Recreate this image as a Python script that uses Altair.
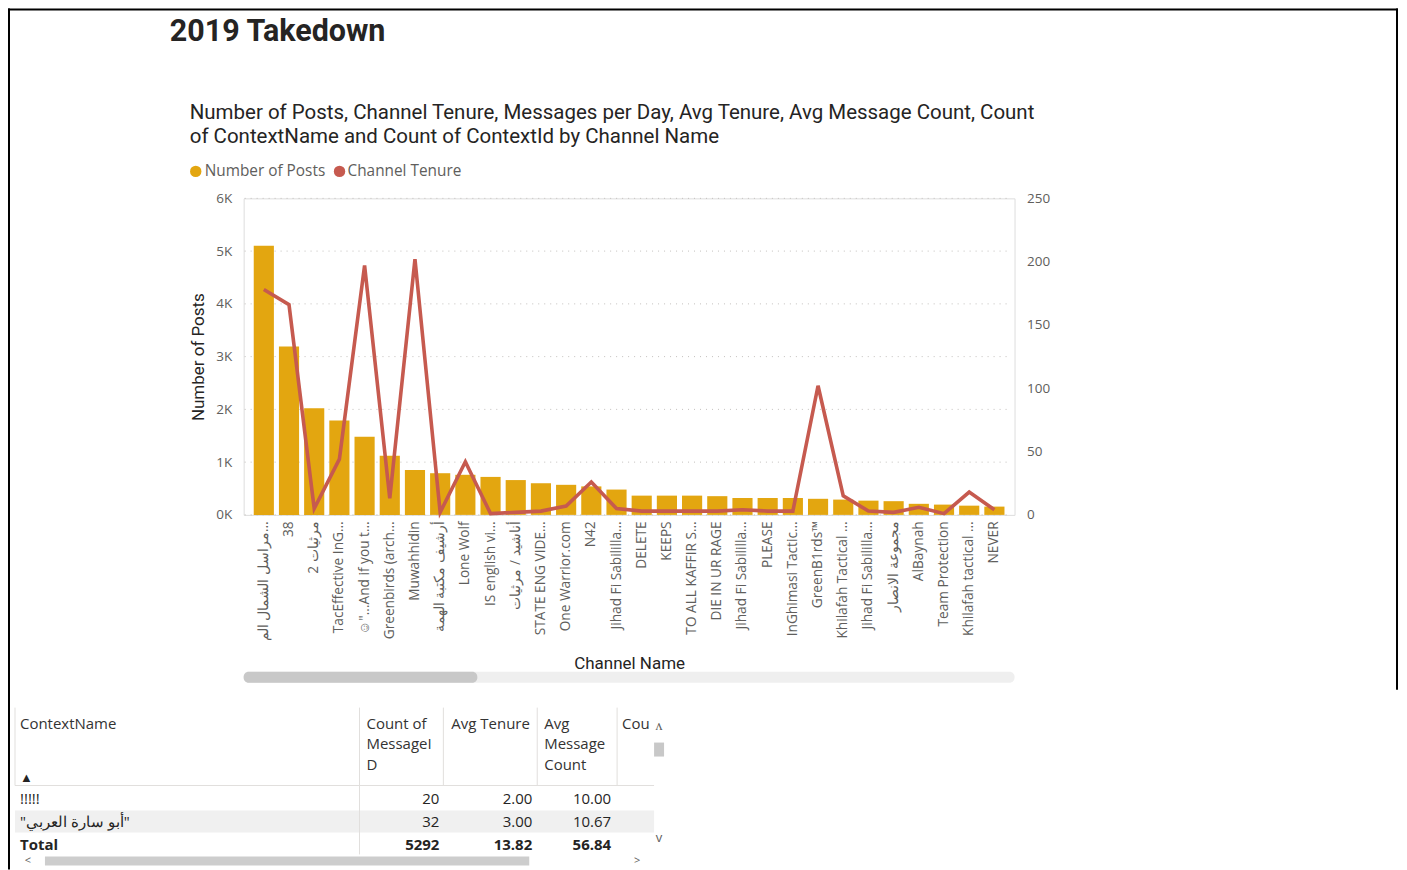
import altair as alt
import pandas as pd

# ---------------- data ----------------
channels = [
    "مراسل الشمال الم…", "38", "2 مرثيات", "TacEffective InG…", "☺\"...And if you t…",
    "Greenbirds (arch…", "Muwahhidin", "أرشيف مكتبة الهمة", "Lone Wolf", "IS english vi…",
    "أناشيد / مرثيات", "STATE ENG VIDE…", "One Warrior.com", "N42", "Jihad Fi Sabililla…",
    "DELETE", "KEEPS", "TO ALL KAFFIR S…", "DIE IN UR RAGE", "Jihad Fi Sabililla…",
    "PLEASE", "InGhimasi Tactic…", "GreenB1rds™", "Khilafah Tactical …", "Jihad Fi Sabililla…",
    "مجموعة الانصار", "AlBaynah", "Team Protection", "Khilafah tactical …", "NEVER",
]
posts = [5100, 3190, 2020, 1790, 1480, 1120, 850, 790, 760, 720,
         660, 600, 570, 540, 480, 365, 365, 365, 355, 320,
         320, 320, 305, 290, 270, 260, 210, 195, 175, 157]
tenure = [178, 166, 5, 44, 197, 13, 202, 2, 42, 1,
          2, 3, 7, 26, 5, 3, 3, 3, 3, 4,
          3, 3, 102, 15, 3, 2, 6, 1, 18, 4]

left_ticks = [0, 1000, 2000, 3000, 4000, 5000, 6000]
right_ticks = [0, 50, 100, 150, 200, 250]

table_names = ["!!!!!", "\"أبو سارة العربي\""]
table_count = [20, 32]
table_avg_tenure = [2.00, 3.00]
table_avg_msg = [10.00, 10.67]
total_count = 5292
total_avg_tenure = 13.82
total_avg_msg = 56.84

# ---------------- style ----------------
GOLD = "#E3A610"
RED = "#C65A4F"
DARK = "#252423"
GREY = "#605E5C"
UI = "Open Sans"
DIN = "Roboto"

W, H = 772, 317
OX, OY = 244, 198


def px(x):
    return x - OX


def py(y):
    return y - OY


ONE = pd.DataFrame({"a": [0]})


def txt(s, x, y, size=15, color=DARK, font=UI, weight="normal", align="left", baseline="middle"):
    return alt.Chart(ONE).mark_text(
        text=s, fontSize=size, color=color, font=font, fontWeight=weight,
        align=align, baseline=baseline,
    ).encode(x=alt.value(px(x)), y=alt.value(py(y)))


def hrule(x1, x2, y, color="#E1DFDD", width=1):
    return alt.Chart(ONE).mark_rule(color=color, strokeWidth=width).encode(
        x=alt.value(px(x1)), x2=alt.value(px(x2)), y=alt.value(py(y)))


def vrule(x, y1, y2, color="#E1DFDD", width=1):
    return alt.Chart(ONE).mark_rule(color=color, strokeWidth=width).encode(
        x=alt.value(px(x)), y=alt.value(py(y1)), y2=alt.value(py(y2)))


def rect(x1, x2, y1, y2, color, radius=0):
    return alt.Chart(ONE).mark_rect(color=color, cornerRadius=radius).encode(
        x=alt.value(px(x1)), x2=alt.value(px(x2)), y=alt.value(py(y1)), y2=alt.value(py(y2)))


# unique keys for repeated names (zero-width spaces are invisible)
seen = {}
keys = []
for n in channels:
    k = seen.get(n, 0)
    seen[n] = k + 1
    keys.append(n + "\u200b" * k)

df = pd.DataFrame({"key": keys, "idx": list(range(len(keys))), "posts": posts, "tenure": tenure})

x_enc = alt.X(
    "key:N", sort=None,
    scale=alt.Scale(paddingInner=0.2, paddingOuter=0.4),
    axis=alt.Axis(
        title="Channel Name", labelAngle=-90, labelPadding=6, labelFont=UI,
        labelFontSize=13.7, labelColor=GREY, labelLimit=0, ticks=False, domain=False,
        grid=False,
        titleFont=DIN, titleFontSize=17, titleFontWeight="normal", titleColor=DARK,
        titleX=W / 2, titleY=669 - 515, titleBaseline="alphabetic", titleAlign="center",
    ),
)

left_scale = alt.Scale(domain=[0, 6000], nice=False)

# dotted gridlines drawn through the left-axis scale
grid = alt.Chart(pd.DataFrame({"v": left_ticks})).mark_rule(
    color="#C3C0BD", strokeWidth=1, strokeDash=[1, 5], strokeCap="butt"
).encode(
    y=alt.Y("v:Q", scale=left_scale, axis=None),
    x=alt.value(1), x2=alt.value(W - 5),
)

bars = alt.Chart(df).mark_bar(color=GOLD).encode(
    x=x_enc,
    y=alt.Y(
        "posts:Q", scale=left_scale,
        axis=alt.Axis(
            values=left_ticks, labelExpr="datum.value/1000 + 'K'", title="Number of Posts",
            grid=False, domain=False, ticks=False, labelPadding=12, labelFont=UI,
            labelFontSize=13.5, labelColor=GREY, titleFont=DIN, titleFontSize=17,
            titleFontWeight="normal", titleColor=DARK, titleAngle=270, titleX=-45,
            titleY=H / 2, titleAlign="center", titleBaseline="middle",
        ),
    ),
)

line = alt.Chart(df).mark_line(color=RED, strokeWidth=3.6).encode(
    x=x_enc,
    order=alt.Order("idx:Q"),
    y=alt.Y(
        "tenure:Q", scale=alt.Scale(domain=[0, 250], nice=False),
        axis=alt.Axis(
            orient="right", values=right_ticks, title=None, grid=False, domain=False,
            ticks=False, labelPadding=12, labelFont=UI, labelFontSize=13.5, labelColor=GREY,
        ),
    ),
)

# ---------------- table ----------------
rows = ["r0", "r1", "total"]
tdf = pd.DataFrame({
    "row": rows,
    "name": table_names + ["Total"],
    "count": table_count + [total_count],
    "ten": table_avg_tenure + [total_avg_tenure],
    "msg": table_avg_msg + [total_avg_msg],
})


def row_y():
    return alt.Y("row:N", axis=None,
                 scale=alt.Scale(domain=rows, range=[py(800), py(846)], padding=0))


def tcol(field, x, align, fmt=None, total=False):
    base = alt.Chart(tdf)
    if total:
        base = base.transform_filter("datum.row == 'total'")
    else:
        base = base.transform_filter("datum.row != 'total'")
    t = alt.Text(f"{field}:Q", format=fmt) if fmt else alt.Text(f"{field}:N")
    return base.mark_text(
        align=align, baseline="middle", font=UI, fontSize=15, color=DARK,
        fontWeight="bold" if total else "normal",
    ).encode(x=alt.value(px(x)), y=row_y(), text=t)


table_layers = [rect(15, 655, 811, 833, "#F0F0F0")]
for total in (False, True):
    table_layers += [
        tcol("name", 20, "left", total=total),
        tcol("count", 440, "right", fmt="d", total=total),
        tcol("ten", 533, "right", fmt=".2f", total=total),
        tcol("msg", 612, "right", fmt=".2f", total=total),
    ]

table_layers += [
    txt("ContextName", 20, 724, color="#333333"),
    txt("▲", 20, 778, size=13, color=DARK),
    txt("Count of", 367, 724, color="#333333"),
    txt("MessageI", 367, 744, color="#333333"),
    txt("D", 367, 765, color="#333333"),
    txt("Avg Tenure", 452, 724, color="#333333"),
    txt("Avg", 545, 724, color="#333333"),
    txt("Message", 545, 744, color="#333333"),
    txt("Count", 545, 765, color="#333333"),
    txt("Cou", 623, 724, color="#333333"),
    vrule(15, 708, 786),
    vrule(360, 708, 855),
    vrule(444, 708, 786),
    vrule(538, 708, 786),
    vrule(618, 708, 786),
    hrule(15, 655, 786),
    rect(655, 665, 743, 757, "#C8C8C8"),
    txt("ʌ", 660, 726, size=14, color=GREY, align="center"),
    txt("v", 660, 839, size=13, color=GREY, align="center"),
    rect(45, 530, 857, 866, "#CDCDCD"),
    txt("<", 28, 862, size=11, color=GREY, align="center"),
    txt(">", 638, 862, size=11, color=GREY, align="center"),
]

# ---------------- titles, legend, frame ----------------
decor = [
    txt("2019 Takedown", 170, 40, size=30.5, font=DIN, weight="bold", baseline="alphabetic"),
    txt("Number of Posts, Channel Tenure, Messages per Day, Avg Tenure, Avg Message Count, Count",
        190, 119, size=20.5, font=DIN, baseline="alphabetic"),
    txt("of ContextName and Count of ContextId by Channel Name",
        190, 143, size=20.5, font=DIN, baseline="alphabetic"),
    alt.Chart(ONE).mark_circle(size=130, opacity=1, color=GOLD).encode(
        x=alt.value(px(196)), y=alt.value(py(171))),
    txt("Number of Posts", 205, 171, size=15.4, color=GREY),
    alt.Chart(ONE).mark_circle(size=130, opacity=1, color=RED).encode(
        x=alt.value(px(340)), y=alt.value(py(171))),
    txt("Channel Tenure", 348, 171, size=15.4, color=GREY),
    # chart scroll bar
    rect(244, 1016, 672, 683, "#EFEFEF", radius=5),
    rect(244, 478, 672, 683, "#C8C8C8", radius=5),
    # frame
    hrule(8, 1400, 9, color="#000000", width=2),
    vrule(9, 8, 870, color="#000000", width=2),
    vrule(1399, 8, 690, color="#000000", width=2),
]

chart = alt.layer(grid, bars, line, *table_layers, *decor).resolve_scale(
    y="independent"
).properties(
    width=W, height=H,
    autosize=alt.AutoSizeParams(type="none"),
    padding={"left": OX - 8, "top": OY - 8, "right": 1401 - 8 - (OX - 8) - W, "bottom": 862 - (OY - 8) - H},
).configure_view(stroke="transparent", strokeWidth=0).configure_axis(
    domain=False, grid=False
).configure(background="white")

chart.save("out.html", embed_options={"renderer": "svg", "actions": False})
